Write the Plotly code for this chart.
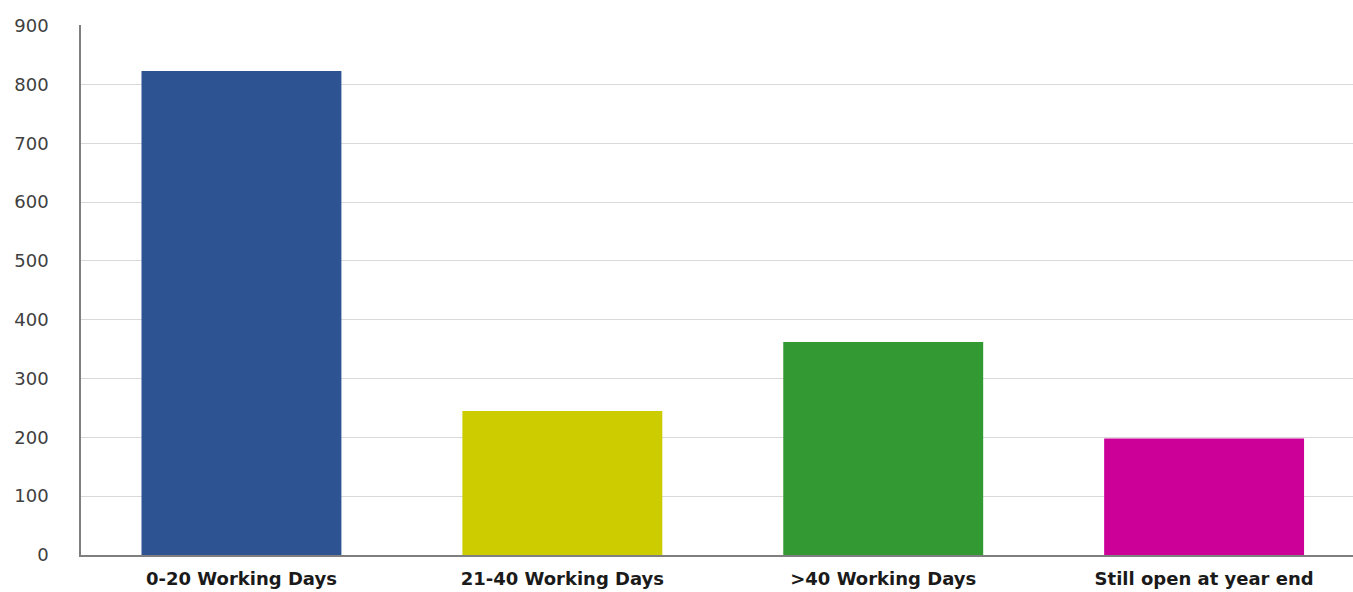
import plotly.graph_objects as go

categories = ["0-20 Working Days", "21-40 Working Days", ">40 Working Days", "Still open at year end"]
values = [823, 245, 362, 198]
colors = ["#2E5393", "#CCCC00", "#339933", "#CC0099"]
y_ticks = [0, 100, 200, 300, 400, 500, 600, 700, 800, 900]

fig = go.Figure(go.Bar(
    x=categories, y=values,
    marker=dict(color=colors, line=dict(width=0)),
    width=0.623,
))

fig.update_layout(
    width=1353, height=592,
    margin=dict(l=81, r=0, t=25, b=37),
    paper_bgcolor="white", plot_bgcolor="white",
    showlegend=False,
    bargap=0.377,
)
fig.update_xaxes(
    range=[-0.5, 3.464],
    showline=True, linecolor="#7F7F7F", linewidth=1.5,
    showgrid=False, ticks="",
    tickfont=dict(family="DejaVu Sans", size=18, color="#1a1a1a", weight="bold"),
    ticklabelstandoff=7,
)
fig.update_yaxes(
    range=[0, 901],
    tickvals=y_ticks,
    showline=True, linecolor="#7F7F7F", linewidth=1.5,
    showgrid=True, gridcolor="#D9D9D9", gridwidth=1,
    zeroline=False, ticks="",
    tickfont=dict(family="DejaVu Sans", size=18, color="#404040"),
    ticklabelstandoff=27,
)

fig.write_html("out.html")
